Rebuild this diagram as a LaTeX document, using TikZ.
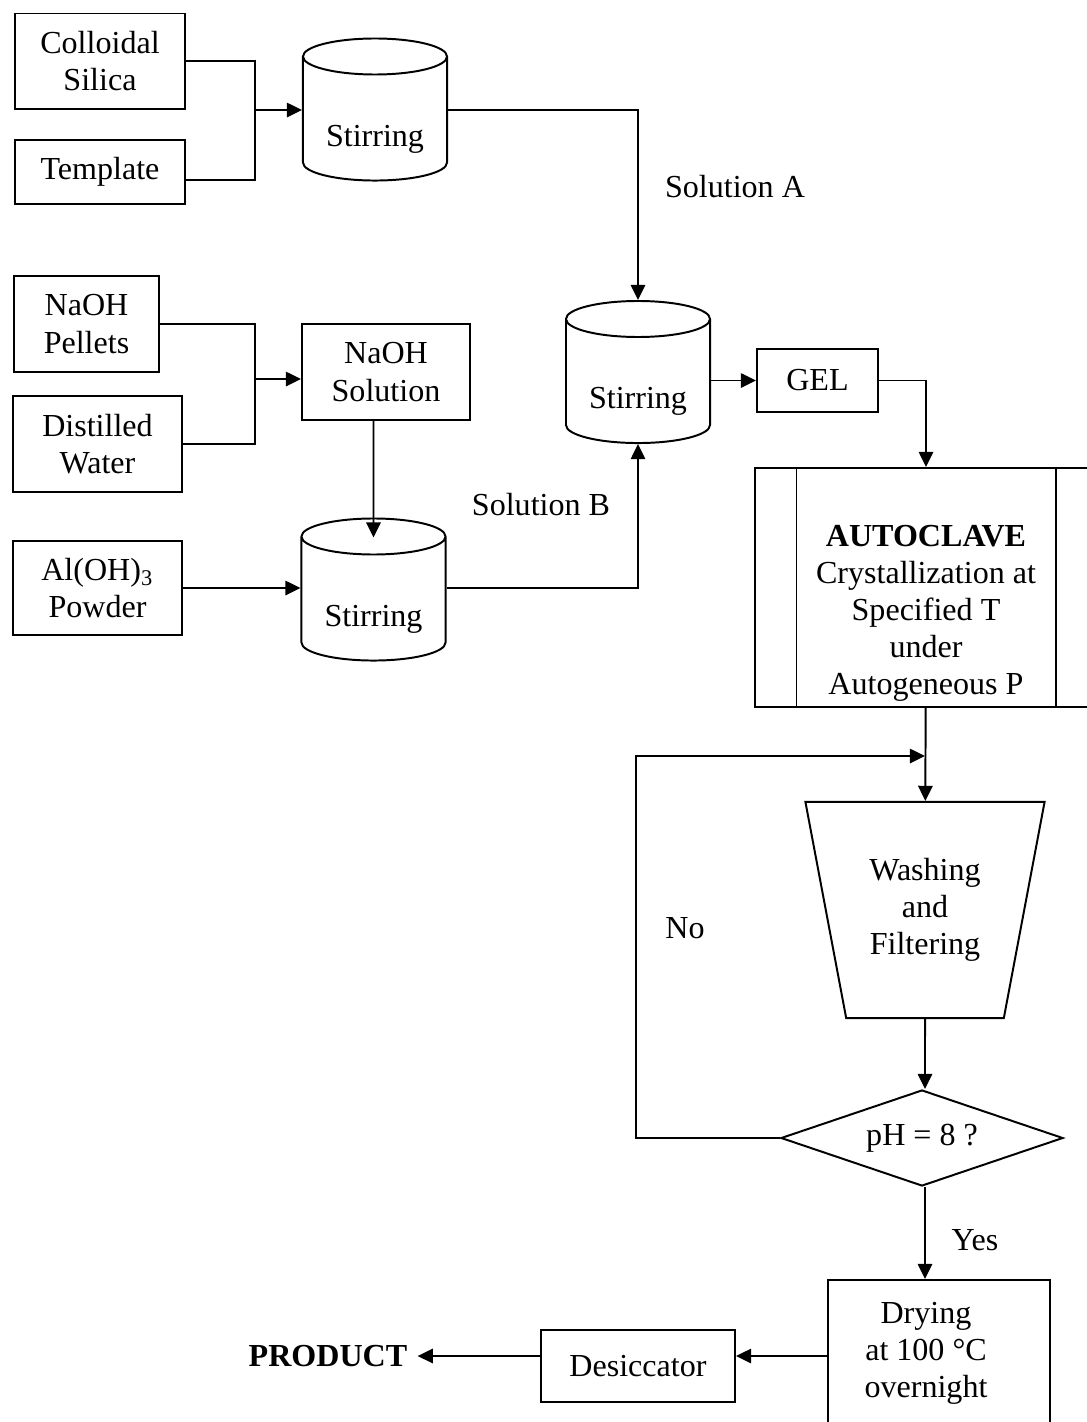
\documentclass[tikz,border=0pt]{standalone}
\usepackage{fontspec}
\setmainfont{Liberation Serif}
\usetikzlibrary{shapes.geometric,arrows.meta,calc}

\begin{document}
\begin{tikzpicture}[x=0.0125cm,y=-0.0125cm,line width=0.7pt,
	font=\fontsize{11.4}{13.2}\selectfont,
	box/.style={draw,rectangle,align=center,inner sep=0pt},
	tank/.style={draw,cylinder,shape border rotate=90,aspect=0.36,text width=1.25cm,minimum width=1.8cm,minimum height=1.775cm,inner sep=0pt},
	flow/.style={-{Triangle[length=0.19cm,width=0.18cm]}}]

		\useasboundingbox (0,0) rectangle (1087,1422);
		\clip (0,0) rectangle (1087,1422);

		\node (ColloidalSilica) at (100,61) [box,minimum width=2.1125cm,minimum height=1.1875cm]{Colloidal\\Silica};
		\node (Template) at (100,172) [box,minimum width=2.1125cm,minimum height=0.8cm]{Template};
		\node (StirringA) at (375,119) [tank,label={[yshift=-0.25cm]center:Stirring}]{};

		\node (NaOHPellets) at (86.5,324) [box,minimum width=1.8125cm,minimum height=1.2cm]{NaOH\\Pellets};
		\node (DistilledWater) at (97.5,444) [box,minimum width=2.1125cm,minimum height=1.2cm]{Distilled\\Water};
		\node (NaOHSolution) at (386,372) [box,minimum width=2.1cm,minimum height=1.2cm]{NaOH\\Solution};

		\node (AlOHPowder) at (97.5,588) [box,minimum width=2.1125cm,minimum height=1.175cm]{Al(OH)\textsubscript{3}\\Powder};
		\node (StirringB) at (373.5,599) [tank,label={[yshift=-0.25cm]center:Stirring}]{};

		\node (StirringGel) at (638,381.5) [tank,label={[yshift=-0.25cm]center:Stirring}]{};
		\node (Gel) at (817.5,380.5) [box,minimum width=1.5125cm,minimum height=0.7875cm]{GEL};

		\node (Autoclave) at (926,587.5) [box,minimum width=4.2625cm,minimum height=2.9875cm,label={[align=center,yshift=-0.32cm]center:\textbf{AUTOCLAVE}\\Crystallization at\\Specified T\\under\\Autogeneous P}]{};
		\node (Washing) at (925,910) [draw,trapezium,shape border rotate=180,trapezium stretches=true,trapezium angle=74.6,minimum width=3cm,minimum height=2.7cm,align=center]{Washing\\and\\Filtering};
		\node (PH) at (922,1138) [draw,diamond,aspect=2.94,minimum width=3.525cm,minimum height=1.2cm,inner sep=0pt]{pH = 8 ?};

		\node (Drying) at (939,1360) [box,minimum width=2.775cm,minimum height=2cm,label={[align=center,xshift=-0.1625cm,yshift=0.0875cm]center:Drying\\at 100 °C\\overnight}]{};
		\node (Desiccator) at (638,1366) [box,minimum width=2.425cm,minimum height=0.9cm]{Desiccator};
		\node (Product) at (328,1356) {\textbf{PRODUCT}};

		\node (SolutionA) at (735,187) {Solution A};
		\node (SolutionB) at (541,505) {Solution B};
		\node (No) at (685,928) {No};
		\node (Yes) at (975,1240) {Yes};

		\coordinate (MixSilica) at (255,110);
		\coordinate (MixNaOH) at (255,379);
		\coordinate (NoCorner) at (636,756);
		\coordinate (WashIn) at (925,756);

		\draw (ColloidalSilica) -| (MixSilica);
		\draw ([yshift=-0.1cm]Template.east) -| (MixSilica);
		\draw [flow] (MixSilica) -- (MixSilica -| StirringA.west);
		\draw [flow] (StirringA.east |- MixSilica) -| (StirringGel);

		\draw (NaOHPellets) -| (MixNaOH);
		\draw (DistilledWater) -| (MixNaOH);
		\draw [flow] (MixNaOH) -- (MixNaOH -| NaOHSolution.west);
		\draw [flow] (NaOHSolution.south -| StirringB) -- ($(StirringB.north)+(0,20)$);

		\draw [flow] (AlOHPowder) -- (AlOHPowder -| StirringB.west);
		\draw [flow] (StirringB.east |- AlOHPowder) -| (StirringGel);

		\draw [flow] (StirringGel.east |- Gel) -- (Gel);
		\draw [flow] (Gel) -| (Autoclave);
		\draw ([xshift=0.525cm]Autoclave.north west) -- ([xshift=0.525cm]Autoclave.south west);
		\draw ([xshift=-0.525cm]Autoclave.north east) -- ([xshift=-0.525cm]Autoclave.south east);

		\draw [flow] (Autoclave) -- (Washing);
		\draw [flow] (Washing) -- (Washing |- PH.north);
		\draw [flow] (PH) -| (NoCorner) -- (WashIn);
		\draw [flow] (PH.south -| Washing) -- (Washing |- Drying.north);

		\draw [flow] (Drying.west |- Product) -- (Desiccator.east |- Product);
		\draw [flow] (Desiccator.west |- Product) -- (Product);
	\end{tikzpicture}
\end{document}
